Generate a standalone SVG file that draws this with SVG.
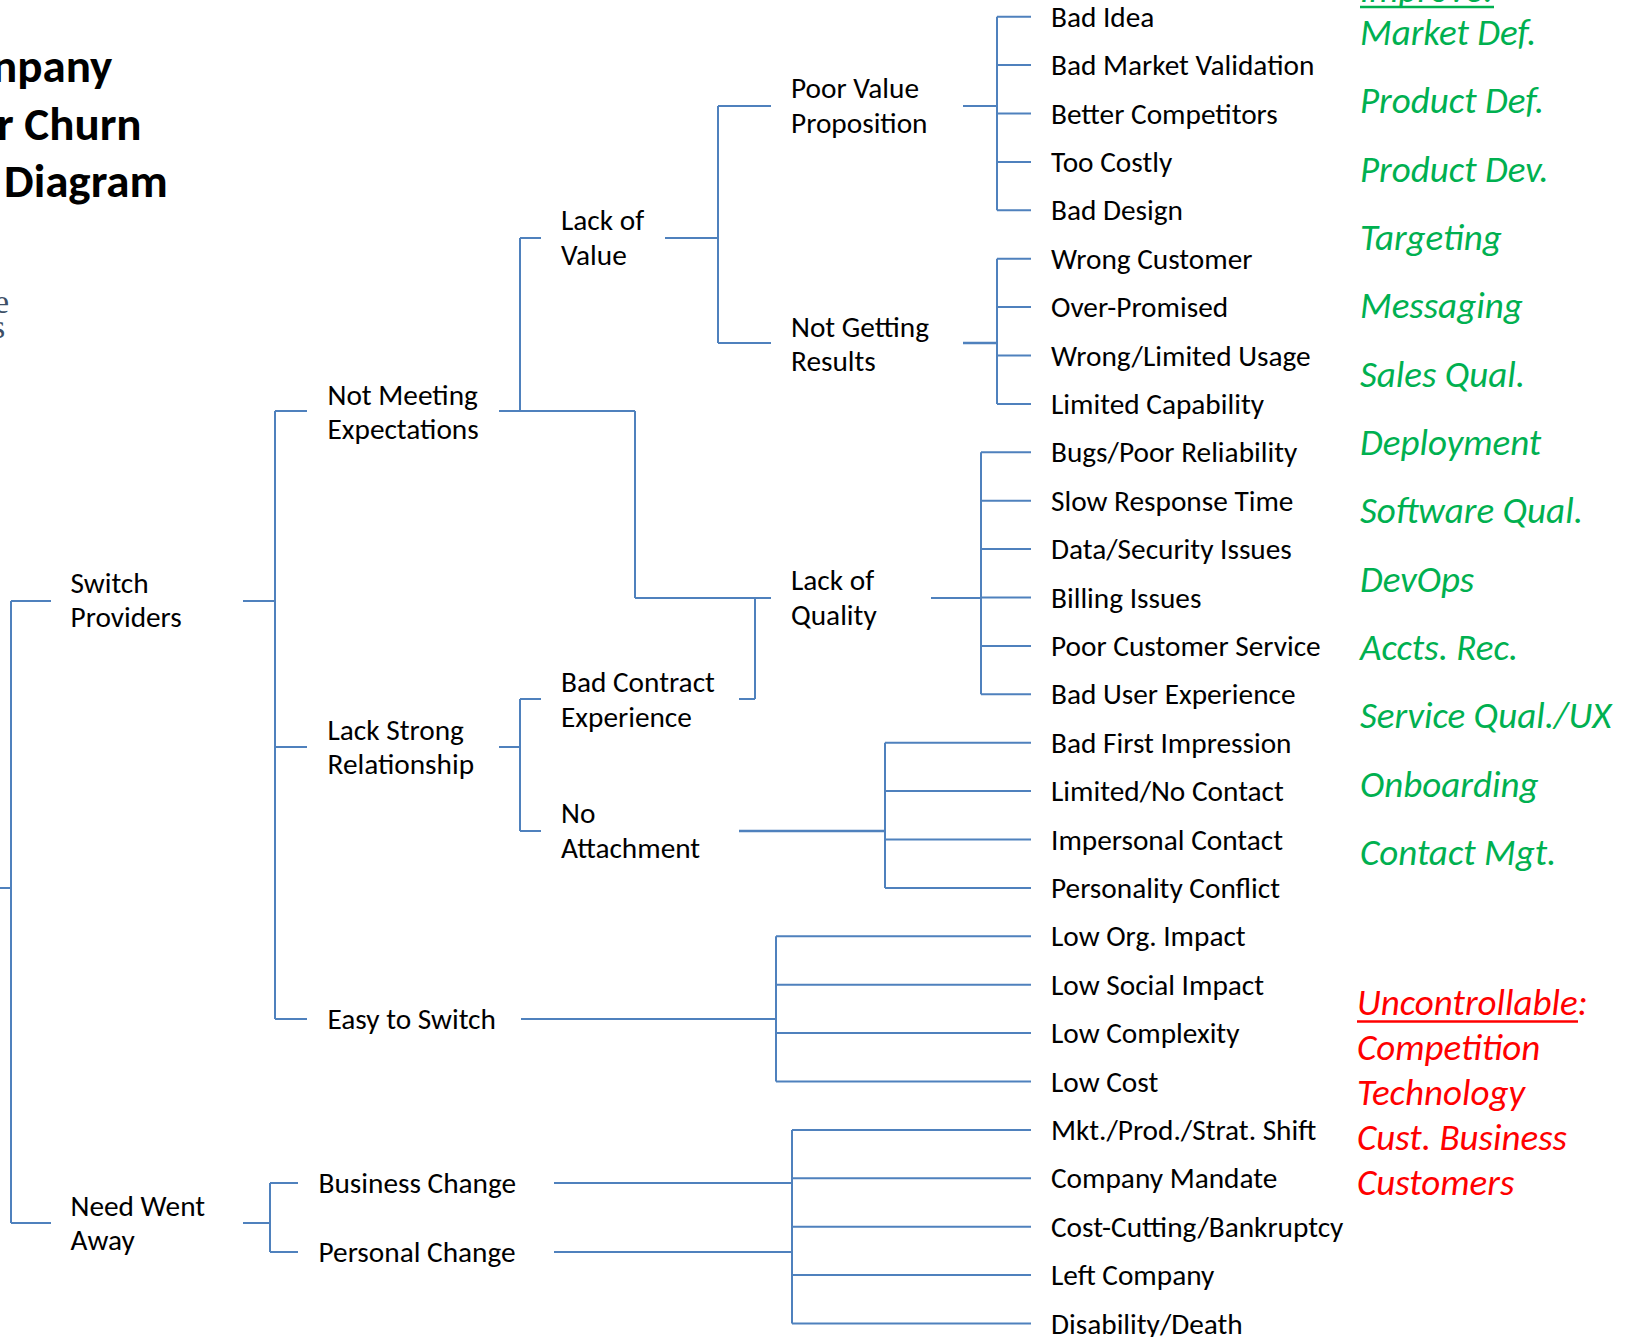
<svg xmlns="http://www.w3.org/2000/svg" width="1627" height="1337" viewBox="0 0 1627 1337">
<style>
  .c { fill: none; stroke: #4f81bd; stroke-width: 2; }
  .ct { fill: none; stroke: #4f81bd; stroke-width: 2.6; }
  .t { font-family: Carlito, Lato, "Liberation Sans", sans-serif; font-size: 29.3px; fill: #000; }
  .title { font-family: Carlito, Lato, "Liberation Sans", sans-serif; font-size: 47px; font-weight: bold; fill: #000; }
  .frag { font-family: "Liberation Serif", serif; font-size: 34px; fill: #3d4f66; }
  .g { font-family: Carlito, Lato, "Liberation Sans", sans-serif; font-size: 37px; font-style: italic; fill: #00b050; }
  .r { font-family: Carlito, Lato, "Liberation Sans", sans-serif; font-size: 37px; font-style: italic; fill: #ff0000; }
</style>
<rect width="1627" height="1337" fill="#ffffff"/>

<g id="title">
  <text class="title" x="-8" y="82">npany</text>
  <text class="title" x="-3" y="140">r Churn</text>
  <text class="title" x="4" y="197">Diagram</text>
  <text class="frag" x="-6" y="313">e</text>
  <text class="frag" x="-8" y="338">s</text>
</g>

<g id="connectors">
  <!-- root -->
  <path class="c" d="M0,888 H11 M11,601 V1223 M11,601 H51 M11,1223 H51"/>
  <!-- switch providers -->
  <path class="c" d="M243,601 H275 M275,411 V1019 M275,411 H307 M275,747 H307 M275,1019 H307"/>
  <!-- need went away -->
  <path class="c" d="M243,1223 H270 M270,1183 V1252 M270,1183 H298 M270,1252 H298"/>
  <!-- not meeting expectations -->
  <path class="c" d="M499,411 H635 M520,238 V411 M520,238 H541 M635,411 V598 M635,598 H771"/>
  <!-- lack of value -->
  <path class="c" d="M665,238 H718 M718,106 V343 M718,106 H771 M718,343 H771"/>
  <!-- poor value proposition -->
  <path class="c" d="M963,106 H997 M997,16.7 V210.3 M997,16.7 H1031 M997,65.1 H1031 M997,113.5 H1031 M997,161.9 H1031 M997,210.3 H1031"/>
  <!-- not getting results -->
  <path class="ct" d="M963,343 H997"/>
  <path class="c" d="M997,258.7 V403.9 M997,258.7 H1031 M997,307.1 H1031 M997,355.5 H1031 M997,403.9 H1031"/>
  <!-- lack of quality -->
  <path class="c" d="M931,598 H981 M981,452.3 V694.3 M981,452.3 H1031 M981,500.7 H1031 M981,549.1 H1031 M981,597.5 H1031 M981,645.9 H1031 M981,694.3 H1031"/>
  <!-- lack strong relationship -->
  <path class="c" d="M499,747 H520 M520,699 V831 M520,699 H541 M520,831 H541 M739,699 H755 M755,598 V699"/>
  <!-- no attachment -->
  <path class="ct" d="M739,831 H885"/>
  <path class="c" d="M885,742.7 V887.9 M885,742.7 H1031 M885,791.1 H1031 M885,839.5 H1031 M885,887.9 H1031"/>
  <!-- easy to switch -->
  <path class="c" d="M521,1019 H776 M776,936.3 V1081.5 M776,936.3 H1031 M776,984.7 H1031 M776,1033.1 H1031 M776,1081.5 H1031"/>
  <!-- business / personal change -->
  <path class="c" d="M554,1183 H792 M554,1252 H792 M792,1129.9 V1323.5 M792,1129.9 H1031 M792,1178.3 H1031 M792,1226.7 H1031 M792,1275.1 H1031 M792,1323.5 H1031"/>
</g>

<g id="node-switch-providers"><text class="t" x="70.5" y="593">Switch</text><text class="t" x="70.5" y="627">Providers</text></g>
<g id="node-need-went-away"><text class="t" x="70.5" y="1216">Need Went</text><text class="t" x="70.5" y="1250">Away</text></g>
<g id="node-not-meeting-expectations"><text class="t" x="327.5" y="405">Not Meeting</text><text class="t" x="327.5" y="439">Expectations</text></g>
<g id="node-lack-strong-relationship"><text class="t" x="327.5" y="740">Lack Strong</text><text class="t" x="327.5" y="774">Relationship</text></g>
<g id="node-easy-to-switch"><text class="t" x="327.5" y="1029">Easy to Switch</text></g>
<g id="node-business-change"><text class="t" x="318.5" y="1193">Business Change</text></g>
<g id="node-personal-change"><text class="t" x="318.5" y="1262">Personal Change</text></g>
<g id="node-lack-of-value"><text class="t" x="561" y="230">Lack of</text><text class="t" x="561" y="265">Value</text></g>
<g id="node-bad-contract-experience"><text class="t" x="561" y="692">Bad Contract</text><text class="t" x="561" y="727">Experience</text></g>
<g id="node-no-attachment"><text class="t" x="561" y="823">No</text><text class="t" x="561" y="858">Attachment</text></g>
<g id="node-poor-value-proposition"><text class="t" x="791" y="98">Poor Value</text><text class="t" x="791" y="133">Proposition</text></g>
<g id="node-not-getting-results"><text class="t" x="791" y="337">Not Getting</text><text class="t" x="791" y="371">Results</text></g>
<g id="node-lack-of-quality"><text class="t" x="791" y="590">Lack of</text><text class="t" x="791" y="625">Quality</text></g>

<g id="leaves">
  <g id="leaf-bad-idea"><text class="t" x="1051" y="26.7">Bad Idea</text></g>
  <g id="leaf-bad-market-validation"><text class="t" x="1051" y="75.1">Bad Market Validation</text></g>
  <g id="leaf-better-competitors"><text class="t" x="1051" y="123.5">Better Competitors</text></g>
  <g id="leaf-too-costly"><text class="t" x="1051" y="171.9">Too Costly</text></g>
  <g id="leaf-bad-design"><text class="t" x="1051" y="220.3">Bad Design</text></g>
  <g id="leaf-wrong-customer"><text class="t" x="1051" y="268.7">Wrong Customer</text></g>
  <g id="leaf-over-promised"><text class="t" x="1051" y="317.1">Over-Promised</text></g>
  <g id="leaf-wrong-limited-usage"><text class="t" x="1051" y="365.5">Wrong/Limited Usage</text></g>
  <g id="leaf-limited-capability"><text class="t" x="1051" y="413.9">Limited Capability</text></g>
  <g id="leaf-bugs"><text class="t" x="1051" y="462.3">Bugs/Poor Reliability</text></g>
  <g id="leaf-slow-response"><text class="t" x="1051" y="510.7">Slow Response Time</text></g>
  <g id="leaf-data-security"><text class="t" x="1051" y="559.1">Data/Security Issues</text></g>
  <g id="leaf-billing"><text class="t" x="1051" y="607.5">Billing Issues</text></g>
  <g id="leaf-poor-customer-service"><text class="t" x="1051" y="655.9">Poor Customer Service</text></g>
  <g id="leaf-bad-user-experience"><text class="t" x="1051" y="704.3">Bad User Experience</text></g>
  <g id="leaf-bad-first-impression"><text class="t" x="1051" y="752.7">Bad First Impression</text></g>
  <g id="leaf-limited-no-contact"><text class="t" x="1051" y="801.1">Limited/No Contact</text></g>
  <g id="leaf-impersonal-contact"><text class="t" x="1051" y="849.5">Impersonal Contact</text></g>
  <g id="leaf-personality-conflict"><text class="t" x="1051" y="897.9">Personality Conflict</text></g>
  <g id="leaf-low-org-impact"><text class="t" x="1051" y="946.3">Low Org. Impact</text></g>
  <g id="leaf-low-social-impact"><text class="t" x="1051" y="994.7">Low Social Impact</text></g>
  <g id="leaf-low-complexity"><text class="t" x="1051" y="1043.1">Low Complexity</text></g>
  <g id="leaf-low-cost"><text class="t" x="1051" y="1091.5">Low Cost</text></g>
  <g id="leaf-mkt-shift"><text class="t" x="1051" y="1139.9">Mkt./Prod./Strat. Shift</text></g>
  <g id="leaf-company-mandate"><text class="t" x="1051" y="1188.3">Company Mandate</text></g>
  <g id="leaf-cost-cutting"><text class="t" x="1051" y="1236.7">Cost-Cutting/Bankruptcy</text></g>
  <g id="leaf-left-company"><text class="t" x="1051" y="1285.1">Left Company</text></g>
  <g id="leaf-disability"><text class="t" x="1051" y="1333.5">Disability/Death</text></g>
</g>

<g id="improve-list">
  <text class="g" x="1360" y="2">Improve:</text>
  <line x1="1360" y1="7" x2="1494" y2="7" stroke="#00b050" stroke-width="2.5"/>
  <text class="g" x="1360" y="45">Market Def.</text>
  <text class="g" x="1360" y="113.3">Product Def.</text>
  <text class="g" x="1360" y="181.7">Product Dev.</text>
  <text class="g" x="1360" y="250">Targeting</text>
  <text class="g" x="1360" y="318.3">Messaging</text>
  <text class="g" x="1360" y="386.7">Sales Qual.</text>
  <text class="g" x="1360" y="455">Deployment</text>
  <text class="g" x="1360" y="523.3">Software Qual.</text>
  <text class="g" x="1360" y="591.7">DevOps</text>
  <text class="g" x="1360" y="660">Accts. Rec.</text>
  <text class="g" x="1360" y="728.3">Service Qual./UX</text>
  <text class="g" x="1360" y="796.7">Onboarding</text>
  <text class="g" x="1360" y="865">Contact Mgt.</text>
</g>

<g id="uncontrollable-list">
  <text class="r" x="1357" y="1015">Uncontrollable:</text>
  <line x1="1357" y1="1021.5" x2="1578" y2="1021.5" stroke="#ff0000" stroke-width="2.5"/>
  <text class="r" x="1357" y="1060">Competition</text>
  <text class="r" x="1357" y="1105">Technology</text>
  <text class="r" x="1357" y="1149.5">Cust. Business</text>
  <text class="r" x="1357" y="1194.5">Customers</text>
</g>
</svg>
